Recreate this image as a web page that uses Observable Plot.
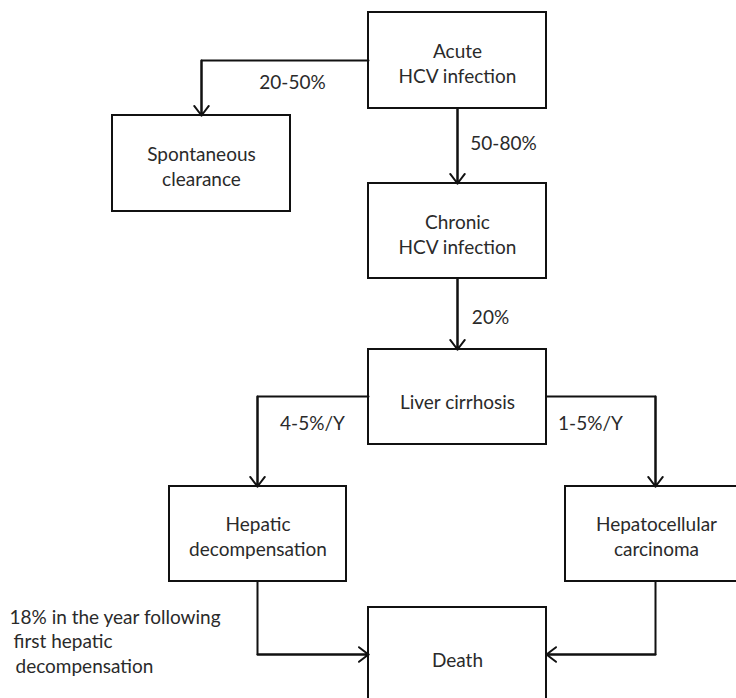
<!DOCTYPE html>
<html>
<head>
<meta charset="utf-8">
<script src="https://cdn.jsdelivr.net/npm/d3@7"></script>
<script src="https://cdn.jsdelivr.net/npm/@observablehq/plot@0.6"></script>
<style>
  html, body { margin: 0; padding: 0; background: #fff; }
</style>
</head>
<body>
<div id="chart"></div>
<script>
// ---- Data: flowchart nodes and transitions ----
const nodeIds = ["acute", "clear", "chronic", "cirrhosis", "decomp", "hcc", "death"];
const nodeLabels = [
  "Acute\nHCV infection",
  "Spontaneous\nclearance",
  "Chronic\nHCV infection",
  "Liver cirrhosis",
  "Hepatic\ndecompensation",
  "Hepatocellular\ncarcinoma",
  "Death"
];
const edgeFrom = ["acute", "acute", "chronic", "cirrhosis", "cirrhosis", "decomp", "hcc"];
const edgeTo = ["clear", "chronic", "cirrhosis", "decomp", "hcc", "death", "death"];
const edgeLabels = ["20-50%", "50-80%", "20%", "4-5%/Y", "1-5%/Y", "", ""];
const noteLines = ["18% in the year following", "first hepatic", "decompensation"];

// ---- Layout (page coordinates, mapped through identity scales) ----
const boxLayout = {
  acute:     {x1: 368, x2: 546, y1: 12,  y2: 108, ty: 62},
  clear:     {x1: 112, x2: 290, y1: 115, y2: 211, ty: 165},
  chronic:   {x1: 368, x2: 546, y1: 183, y2: 278, ty: 233},
  cirrhosis: {x1: 368, x2: 546, y1: 349, y2: 444, ty: 400},
  decomp:    {x1: 169, x2: 346, y1: 486, y2: 581, ty: 535},
  hcc:       {x1: 565, x2: 760, y1: 486, y2: 581, ty: 535, tx: 656},
  death:     {x1: 368, x2: 546, y1: 607, y2: 730, ty: 658}
};
const edgePaths = [
  [[368, 60], [201, 60], [201, 115]],
  [[457, 108], [457, 183]],
  [[457, 278], [457, 349]],
  [[368, 396], [257, 396], [257, 486]],
  [[546, 396], [655, 396], [655, 486]],
  [[257, 581], [257, 654], [368, 654]],
  [[655, 581], [655, 654], [546, 654]]
];
const edgeLabelPos = [[292, 82], [503, 143], [490, 317], [312, 423], [590, 423], [0, 0], [0, 0]];
const notePos = [[9, 617], [13, 641], [15, 666]];

// ---- Build tables ----
const boxes = nodeIds.map((id, i) => {
  const b = boxLayout[id];
  return {id, label: nodeLabels[i], ...b, tx: b.tx ?? (b.x1 + b.x2) / 2};
});
const edgePoints = edgePaths.flatMap((pts, i) =>
  pts.map(([x, y]) => ({edge: `${edgeFrom[i]}-${edgeTo[i]}`, x, y}))
);
const edgeHeads = edgePaths.map((pts) => {
  const [a, b] = pts.slice(-2);
  return {x1: a[0], y1: a[1], x2: b[0], y2: b[1]};
});
const edgeTexts = edgeLabels
  .map((label, i) => ({label, x: edgeLabelPos[i][0], y: edgeLabelPos[i][1]}))
  .filter(d => d.label);
const notes = noteLines.map((line, i) => ({line, x: notePos[i][0], y: notePos[i][1]}));

const W = 736, H = 698;
const font = "Lato, 'Open Sans', sans-serif";
const textColor = "#2a2a2a";
const fs = 19;

const chart = Plot.plot({
  width: W,
  height: H,
  margin: 0,
  x: {domain: [0, W], range: [0, W], axis: null},
  y: {domain: [0, H], range: [0, H], axis: null},
  style: {fontFamily: font, background: "#fff"},
  marks: [
    Plot.line(edgePoints, {
      x: "x", y: "y", z: "edge",
      stroke: "#111", strokeWidth: 2, curve: "linear"
    }),
    Plot.arrow(edgeHeads, {
      x1: "x1", y1: "y1", x2: "x2", y2: "y2",
      stroke: "#111", strokeWidth: 2,
      headLength: 9, headAngle: 75, insetEnd: 0
    }),
    Plot.rect(boxes, {
      x1: "x1", x2: "x2", y1: "y1", y2: "y2",
      fill: "none", stroke: "#111", strokeWidth: 2
    }),
    Plot.text(boxes, {
      x: "tx", y: "ty", text: "label",
      fontSize: fs, lineHeight: 1.32, fill: textColor,
      textAnchor: "middle", lineAnchor: "middle"
    }),
    Plot.text(edgeTexts, {
      x: "x", y: "y", text: "label",
      fontSize: fs, fill: textColor,
      textAnchor: "middle", lineAnchor: "middle"
    }),
    Plot.text(notes, {
      x: "x", y: "y", text: "line",
      fontSize: fs, fill: textColor,
      textAnchor: "start", lineAnchor: "middle"
    })
  ]
});
document.getElementById("chart").appendChild(chart);
</script>
</body>
</html>
